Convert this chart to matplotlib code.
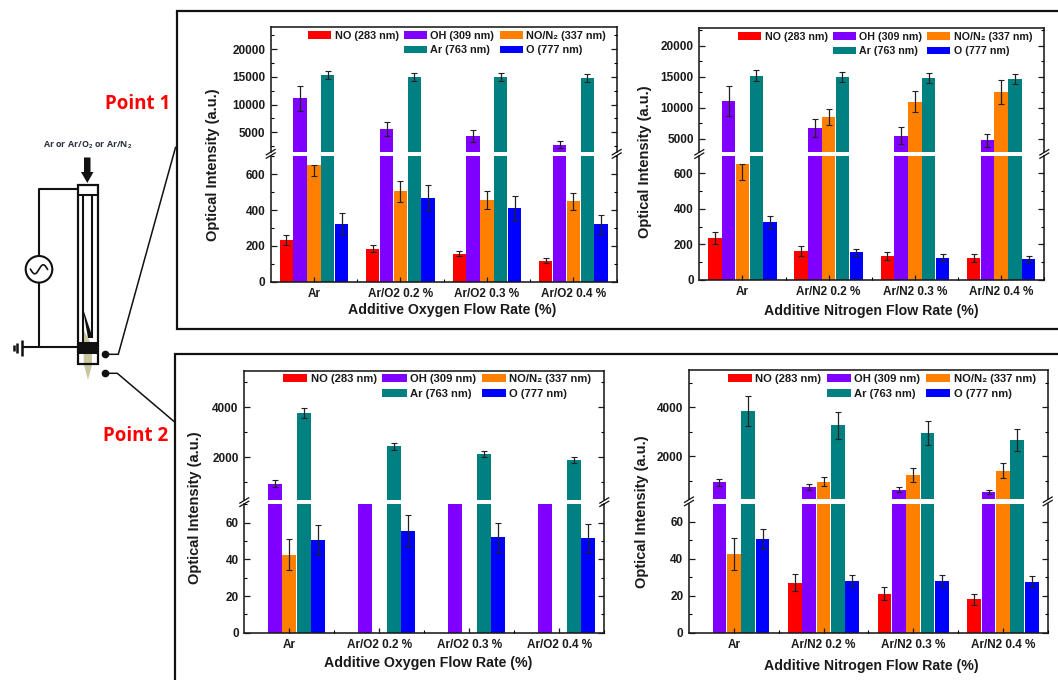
import numpy as np
import matplotlib
matplotlib.use("Agg")
import matplotlib.pyplot as plt
from matplotlib.patches import Patch, Rectangle, Circle, Polygon
from matplotlib.ticker import MultipleLocator

plt.rcParams['font.family'] = ['Liberation Sans', 'DejaVu Sans']
plt.rcParams['font.weight'] = 'bold'
plt.rcParams['mathtext.fontset'] = 'custom'
plt.rcParams['mathtext.bf'] = 'Liberation Sans:bold'
plt.rcParams['mathtext.rm'] = 'Liberation Sans:bold'

W, H = 1058, 680

series_names = ['NO (283 nm)', 'OH (309 nm)', 'NO/N₂ (337 nm)', 'Ar (763 nm)', 'O (777 nm)']
series_colors = ['#FF0000', '#8000FF', '#FF8000', '#008080', '#0000FF']

oxygen_cats = ['Ar', 'Ar/O2 0.2 %', 'Ar/O2 0.3 %', 'Ar/O2 0.4 %']
nitrogen_cats = ['Ar', 'Ar/N2 0.2 %', 'Ar/N2 0.3 %', 'Ar/N2 0.4 %']

# Point 1, oxygen
p1o_no = [235, 185, 157, 118]
p1o_no_err = [28, 20, 15, 12]
p1o_oh = [11100, 5600, 4400, 2800]
p1o_oh_err = [2200, 1200, 1050, 700]
p1o_non2 = [652, 505, 455, 450]
p1o_non2_err = [60, 60, 50, 47]
p1o_ar = [15300, 15000, 15000, 14850]
p1o_ar_err = [700, 700, 700, 700]
p1o_o = [325, 470, 412, 320]
p1o_o_err = [58, 70, 65, 52]

# Point 1, nitrogen
p1n_no = [235, 165, 135, 125]
p1n_no_err = [33, 28, 22, 22]
p1n_oh = [11100, 6700, 5500, 4800]
p1n_oh_err = [2400, 1450, 1350, 1050]
p1n_non2 = [652, 8500, 11000, 12600]
p1n_non2_err = [90, 1300, 1700, 1950]
p1n_ar = [15200, 15000, 14800, 14700]
p1n_ar_err = [900, 800, 800, 800]
p1n_o = [325, 155, 125, 118]
p1n_o_err = [35, 20, 20, 18]

# Point 2, oxygen
p2o_no = [0, 0, 0, 0]
p2o_no_err = [0, 0, 0, 0]
p2o_oh = [950, 200, 200, 200]
p2o_oh_err = [150, 0, 0, 0]
p2o_non2 = [42.5, 0, 0, 0]
p2o_non2_err = [8.5, 0, 0, 0]
p2o_ar = [3780, 2440, 2130, 1900]
p2o_ar_err = [200, 130, 110, 110]
p2o_o = [50.5, 55.5, 52, 51.5]
p2o_o_err = [8, 8.5, 8, 7.5]

# Point 2, nitrogen
p2n_no = [0, 27, 21, 18]
p2n_no_err = [0, 4.5, 3.5, 2.8]
p2n_oh = [925, 735, 626, 530]
p2n_oh_err = [150, 130, 110, 80]
p2n_non2 = [42.5, 950, 1225, 1400]
p2n_non2_err = [8.5, 180, 270, 300]
p2n_ar = [3837, 3265, 2950, 2670]
p2n_ar_err = [600, 550, 480, 450]
p2n_o = [50.5, 28, 28, 27.5]
p2n_o_err = [5.5, 3, 3, 3]

panels = [
    dict(cats=oxygen_cats, xlabel='Additive Oxygen Flow Rate (%)',
         vals=[p1o_no, p1o_oh, p1o_non2, p1o_ar, p1o_o],
         errs=[p1o_no_err, p1o_oh_err, p1o_non2_err, p1o_ar_err, p1o_o_err],
         no_upper=True,
         box=(270.7, 616.7, 26.7, 151.7, 156.0, 281.7),
         up_lim=(1520, 24020), lo_lim=(0, 702),
         up_tick=(5000, 2500), lo_tick=(200, 100),
         xl=(452, 310), yl=(212.7, 165), leg=(308, 30.8), leg_fs=7.8),
    dict(cats=nitrogen_cats, xlabel='Additive Nitrogen Flow Rate (%)',
         vals=[p1n_no, p1n_oh, p1n_non2, p1n_ar, p1n_o],
         errs=[p1n_no_err, p1n_oh_err, p1n_non2_err, p1n_ar_err, p1n_o_err],
         no_upper=True,
         box=(699.3, 1044.3, 28.3, 152.0, 156.0, 280.0),
         up_lim=(2911, 22785), lo_lim=(0, 697),
         up_tick=(5000, 2500), lo_tick=(200, 100),
         xl=(871.7, 310.7), yl=(645, 161.7), leg=(738.3, 31.7), leg_fs=7.7),
    dict(cats=oxygen_cats, xlabel='Additive Oxygen Flow Rate (%)',
         vals=[p2o_no, p2o_oh, p2o_non2, p2o_ar, p2o_o],
         errs=[p2o_no_err, p2o_oh_err, p2o_non2_err, p2o_ar_err, p2o_o_err],
         no_upper=False,
         box=(244.3, 604.3, 370.7, 500.0, 504.3, 632.7),
         up_lim=(293, 5467), lo_lim=(0, 70),
         up_tick=(2000, 1000), lo_tick=(20, 10),
         xl=(428, 663), yl=(195, 508), leg=(283.3, 374), leg_fs=8.1),
    dict(cats=nitrogen_cats, xlabel='Additive Nitrogen Flow Rate (%)',
         vals=[p2n_no, p2n_oh, p2n_non2, p2n_ar, p2n_o],
         errs=[p2n_no_err, p2n_oh_err, p2n_non2_err, p2n_ar_err, p2n_o_err],
         no_upper=False,
         box=(689.0, 1047.7, 369.7, 499.0, 503.7, 632.7),
         up_lim=(245, 5524), lo_lim=(0, 69.7),
         up_tick=(2000, 1000), lo_tick=(20, 10),
         xl=(871.7, 665.7), yl=(642, 511.7), leg=(727.7, 374), leg_fs=8.1),
]

INK = '#1a1a1a'
fig = plt.figure(figsize=(W / 100, H / 100), dpi=100, facecolor='white')
BAR_W = 0.155
OFFS = np.array([-2, -1, 0, 1, 2]) * 0.16


def px_axes(l, r, t, b):
    return fig.add_axes([l / W, 1 - b / H, (r - l) / W, (b - t) / H])


def style(ax, major, minor):
    ax.set_xlim(-0.5, 3.5)
    ax.yaxis.set_major_locator(MultipleLocator(major))
    ax.yaxis.set_minor_locator(MultipleLocator(minor))
    ax.set_axisbelow(False)
    ax.tick_params(axis='y', which='major', direction='in', length=4.2, width=0.9,
                   left=True, right=True, labelsize=8.5, pad=4, colors=INK)
    ax.tick_params(axis='y', which='minor', direction='in', length=2.3, width=0.8,
                   left=True, right=True)
    for s in ax.spines.values():
        s.set_linewidth(1.15)
        s.set_color(INK)


def draw_bars(ax, p):
    x0 = np.arange(4)
    for k, (v, e, c) in enumerate(zip(p['vals'], p['errs'], series_colors)):
        v = np.asarray(v, float)
        e = np.asarray(e, float)
        ax.bar(x0 + OFFS[k], v, BAR_W, color=c, linewidth=0)
        m = e > 0
        lower = e[m]
        upper = e[m].copy()
        if p['no_upper'] and k == 2:
            upper[0] = 0
        ax.errorbar((x0 + OFFS[k])[m], v[m], yerr=[lower, upper], fmt='none',
                    ecolor='#222222', elinewidth=0.9, capsize=2.0, capthick=0.8)


for p in panels:
    l, r, t, ub, lt, b = p['box']
    up = px_axes(l, r, t, ub)
    lo = px_axes(l, r, lt, b)
    draw_bars(up, p)
    draw_bars(lo, p)
    style(up, *p['up_tick'])
    style(lo, *p['lo_tick'])
    up.set_ylim(*p['up_lim'])
    lo.set_ylim(*p['lo_lim'])
    up.spines['bottom'].set_visible(False)
    lo.spines['top'].set_visible(False)
    up.set_xticks([])
    lo.set_xticks(np.arange(4))
    lo.set_xticks(np.arange(4) + 0.5, minor=True)
    lo.set_xticklabels(p['cats'])
    lo.tick_params(axis='x', which='major', direction='in', length=3.5, width=0.9,
                   labelsize=8.5, pad=4.5, colors=INK)
    lo.tick_params(axis='x', which='minor', direction='in', length=2.0, width=0.8)
    lo.set_xlabel(p['xlabel'], fontsize=10.2, fontweight='bold', color=INK, va='center')
    lo.xaxis.set_label_coords(p['xl'][0] / W, 1 - p['xl'][1] / H, transform=fig.transFigure)
    lo.set_ylabel('Optical Intensity (a.u.)', fontsize=10.5, fontweight='bold',
                  color=INK, va='center')
    lo.yaxis.set_label_coords(p['yl'][0] / W, 1 - p['yl'][1] / H, transform=fig.transFigure)
    handles = [Patch(facecolor=series_colors[0]), Patch(visible=False),
               Patch(facecolor=series_colors[1]), Patch(facecolor=series_colors[3]),
               Patch(facecolor=series_colors[2]), Patch(facecolor=series_colors[4])]
    labels = [series_names[0], ' ', series_names[1], series_names[3], series_names[2], series_names[4]]
    up.legend(handles, labels, ncols=3, loc='upper left',
              bbox_to_anchor=(p['leg'][0] / W, 1 - p['leg'][1] / H),
              bbox_transform=fig.transFigure, frameon=False, fontsize=p['leg_fs'],
              handlelength=2.15, handleheight=0.7, handletextpad=0.3,
              columnspacing=0.5, borderpad=0, borderaxespad=0, labelspacing=0.42,
              labelcolor=INK)

# overlay in pixel coordinates: frames, break marks and the schematic
ov = fig.add_axes([0, 0, 1, 1], zorder=10)
ov.set_xlim(0, W)
ov.set_ylim(H, 0)
ov.axis('off')
ov.patch.set_alpha(0)


def line(xs, ys, lw=1.5, c='#111111', **kw):
    ov.plot(xs, ys, color=c, lw=lw, solid_capstyle='butt', **kw)


# panel frames
line([1058, 177, 177, 1058], [11, 11, 329, 329], lw=1.6, solid_joinstyle='miter')
line([1058, 174.5, 174.5], [353.5, 353.5, 680], lw=1.6, solid_joinstyle='miter')

# axis break marks
for p in panels:
    l, r, t, ub, lt, b = p['box']
    yc = (ub + lt) / 2
    for xc in (l, r):
        for dy in (-1.7, 1.7):
            line([xc - 5, xc + 5], [yc + dy + 3, yc + dy - 3], lw=0.9)

# schematic
line([77.7, 38.5, 38.5], [189, 189, 255])
line([38.5, 38.5], [283, 347.3])
ov.add_patch(Circle((39, 269.3), 13.3, fc='white', ec='#111111', lw=1.5))
sx = np.linspace(-8.5, 8.5, 60)
ov.plot(39 + sx, 269.3 - 4.5 * np.sin(sx * np.pi / 8.5), color='#111111', lw=1.2)
line([77.7, 21.5], [347.3, 347.3])
line([21.5, 21.5], [339.5, 356], lw=1.8)
line([17.3, 17.3], [342.5, 352.5], lw=1.8)
line([14, 14], [344.5, 351], lw=1.8)
ov.add_patch(Polygon([[82.5, 328], [92, 345], [92, 365], [88, 380], [84, 365]],
                     fc='#c9c6a0', ec='none', zorder=1))
ov.add_patch(Rectangle((77.7, 185), 20.6, 179.3, fc='none', ec='#111111', lw=1.6, zorder=3))
line([77.7, 98.3], [194.5, 194.5])
line([83.3, 83.3], [194.5, 342])
line([92.3, 92.3], [194.5, 338])
ov.add_patch(Polygon([[82.5, 307], [92.8, 338], [88, 338]], fc='#111111', ec='none', zorder=3))
ov.add_patch(Rectangle((77.7, 341.5), 20.6, 12, fc='#111111', ec='none', zorder=3))
ov.add_patch(Polygon([[84, 157.5], [90.5, 157.5], [90.5, 172], [93.5, 172], [87.3, 183],
                      [81, 172], [84, 172]], fc='#111111', ec='none'))
ov.text(87.3, 145, r'Ar or Ar/O$_{\mathbf{2}}$ or Ar/N$_{\mathbf{2}}$', ha='center', va='center',
        fontsize=6.4, fontweight='bold', color='#2b3140', family=['Open Sans', 'DejaVu Sans'])
ov.plot([105], [354.3], 'o', color='#111111', ms=4.5)
ov.plot([105], [373.3], 'o', color='#111111', ms=4.5)
line([105, 118.3, 175.7], [354.3, 354.3, 146.7], lw=1.1)
line([105, 117.3, 175], [373.3, 373.3, 422.3], lw=1.1)
ov.text(137.7, 104, 'Point 1', ha='center', va='center', fontsize=13.5, fontweight='bold',
        color='#FF0000', family=['Open Sans', 'DejaVu Sans'])
ov.text(136, 436, 'Point 2', ha='center', va='center', fontsize=13.5, fontweight='bold',
        color='#FF0000', family=['Open Sans', 'DejaVu Sans'])

fig.savefig('out.png', dpi=100)
